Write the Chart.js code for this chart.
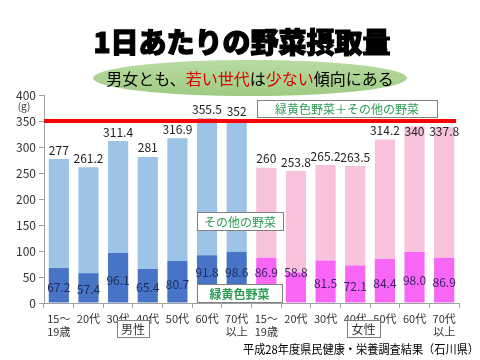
<!DOCTYPE html>
<html><head><meta charset="utf-8">
<script src="https://cdn.jsdelivr.net/npm/chart.js@4"></script>
<style>html,body{margin:0;padding:0;background:#fff}#c{display:block}</style>
</head><body>
<canvas id="c" width="480" height="360"></canvas>
<script>
const categories = [['15～','19歳'],'20代','30代','40代','50代','60代',['70代','以上'],['15～','19歳'],'20代','30代','40代','50代','60代',['70代','以上']];
const totalLabels = ['277','261.2','311.4','281','316.9','355.5','352','260','253.8','265.2','263.5','314.2','340','337.8'];
const totals = [277,261.2,311.4,281,316.9,355.5,352,260,253.8,265.2,263.5,314.2,340,337.8];
const greenYellowLabels = ['67.2','57.4','96.1','65.4','80.7','91.8','98.6','86.9','58.8','81.5','72.1','84.4','98.0','86.9'];
const greenYellow = [67.2,57.4,96.1,65.4,80.7,91.8,98.6,86.9,58.8,81.5,72.1,84.4,98.0,86.9];
const others = totals.map((t,i)=>+(t-greenYellow[i]).toFixed(1));
const yTicks = [0,50,100,150,200,250,300,350,400];
const targetValue = 350;

const JP = '"Noto Sans CJK JP","Noto Sans",sans-serif';
const maleDark='#4774C6', maleLight='#9DC3E6', femDark='#F766F5', femLight='#F8C1DC';

const overlay = {
  id:'overlay',
  afterDatasetsDraw(chart){
    const ctx=chart.ctx, x=chart.scales.x, y=chart.scales.y, ca=chart.chartArea;
    const lineY = y.getPixelForValue(targetValue);
    ctx.save();
    ctx.strokeStyle='#FF0000'; ctx.lineWidth=4;
    ctx.beginPath(); ctx.moveTo(ca.left, lineY); ctx.lineTo(ca.right-3, lineY); ctx.stroke();
    function box(x0,y0,x1,y1,text,color,font){
      ctx.fillStyle='#fff'; ctx.fillRect(x0,y0,x1-x0,y1-y0);
      ctx.strokeStyle='#7F7F7F'; ctx.lineWidth=1; ctx.strokeRect(x0+0.5,y0+0.5,x1-x0,y1-y0);
      ctx.fillStyle=color; ctx.font=font; ctx.textAlign='center'; ctx.textBaseline='middle';
      ctx.fillText(text,(x0+x1)/2,(y0+y1)/2+1);
    }
    box(257,100,437,117,'緑黄色野菜＋その他の野菜','#2E9E55','12px '+JP);
    box(197,212,283,230,'その他の野菜','#2E9E55','12px '+JP);
    const gyBox=[197,284,282,302];
    box(gyBox[0],gyBox[1],gyBox[2],gyBox[3],'緑黄色野菜','#2E9E55','bold 12px '+JP);
    ctx.font='12px '+JP; ctx.textAlign='center'; ctx.textBaseline='middle';
    const meta=chart.getDatasetMeta(0);
    totals.forEach((t,i)=>{
      const px=meta.data[i].x;
      let ty=y.getPixelForValue(t)-9;
      if(ty+6>lineY-2 && ty-6<lineY+2) ty=lineY+10;
      ctx.fillStyle='#222';
      ctx.fillText(totalLabels[i], px, ty);
      let ly=y.getPixelForValue(greenYellow[i]*0.45);
      if(px+14>gyBox[0] && px-14<gyBox[2] && ly+6>gyBox[1]) ly=gyBox[1]-12;
      ctx.fillStyle = i<7 ? '#1F2D5C' : '#3C1F66';
      ctx.fillText(greenYellowLabels[i], px, ly);
    });
    ctx.restore();
  },
  afterDraw(chart){
    const ctx=chart.ctx;
    ctx.save();
    function gbox(x0,y0,x1,y1,t){
      ctx.fillStyle='#fff'; ctx.fillRect(x0,y0,x1-x0,y1-y0);
      ctx.strokeStyle='#7F7F7F'; ctx.lineWidth=1; ctx.strokeRect(x0+0.5,y0+0.5,x1-x0,y1-y0);
      ctx.fillStyle='#333'; ctx.font='12px '+JP; ctx.textAlign='center'; ctx.textBaseline='middle';
      ctx.fillText(t,(x0+x1)/2,(y0+y1)/2+1);
    }
    gbox(117,320,149,337,'男性');
    gbox(347,320,380,337,'女性');
    ctx.fillStyle='#333'; ctx.font='10px '+JP; ctx.textAlign='center'; ctx.textBaseline='middle';
    ctx.fillText('(g)',24,106);
    ctx.fillStyle='#000'; ctx.font='900 28px '+JP; ctx.textAlign='center';
    ctx.lineWidth=1.2; ctx.strokeStyle='#000';
    ctx.fillText('1日あたりの野菜摂取量',242,42);
    ctx.strokeText('1日あたりの野菜摂取量',242,42);
    const g=ctx.createLinearGradient(0,60,0,96);
    g.addColorStop(0,'#B9DBA2'); g.addColorStop(1,'#9FCB83');
    ctx.fillStyle=g; ctx.beginPath(); ctx.ellipse(250,78,157,18,0,0,Math.PI*2); ctx.fill();
    const parts=[['男女とも、','#000'],['若い世代','#E00000'],['は','#000'],['少ない','#E00000'],['傾向にある','#000']];
    ctx.font='16px '+JP; ctx.textAlign='left';
    let w=parts.reduce((s,p)=>s+ctx.measureText(p[0]).width,0);
    let cx=250-w/2;
    parts.forEach(p=>{ctx.fillStyle=p[1]; ctx.fillText(p[0],cx,79); cx+=ctx.measureText(p[0]).width;});
    ctx.fillStyle='#000'; ctx.font='12px '+JP; ctx.textAlign='right';
    ctx.fillText('平成28年度県民健康・栄養調査結果（石川県）',479,349,236);
    ctx.restore();
  }
};

new Chart(document.getElementById('c'),{
  type:'bar',
  data:{labels:categories,datasets:[
    {label:'緑黄色野菜',data:greenYellow,backgroundColor:categories.map((c,i)=>i<7?maleDark:femDark),stack:'s'},
    {label:'その他の野菜',data:others,backgroundColor:categories.map((c,i)=>i<7?maleLight:femLight),stack:'s'}
  ]},
  options:{
    responsive:false,animation:false,
    layout:{padding:{left:0,right:21,top:95,bottom:0}},
    plugins:{legend:{display:false},tooltip:{enabled:false}},
    datasets:{bar:{categoryPercentage:1,barPercentage:0.68}},
    scales:{
      x:{stacked:true,offset:true,
        grid:{display:true,drawOnChartArea:false,offset:true,color:'#A0A0A0',tickLength:5},
        border:{color:'#A0A0A0'},
        ticks:{color:'#333',font:{family:JP,size:11},maxRotation:0,autoSkip:false,padding:4},
        afterFit(s){s.height=57;}
      },
      y:{stacked:true,min:0,max:400,
        afterBuildTicks(s){s.ticks=yTicks.map(v=>({value:v}));},
        grid:{display:true,drawOnChartArea:false,color:'#A0A0A0',tickLength:5},
        border:{color:'#A0A0A0'},
        ticks:{color:'#333',font:{family:JP,size:12},padding:3},
        afterFit(s){s.width=44;}
      }
    }
  },
  plugins:[overlay]
});
</script>
</body></html>
